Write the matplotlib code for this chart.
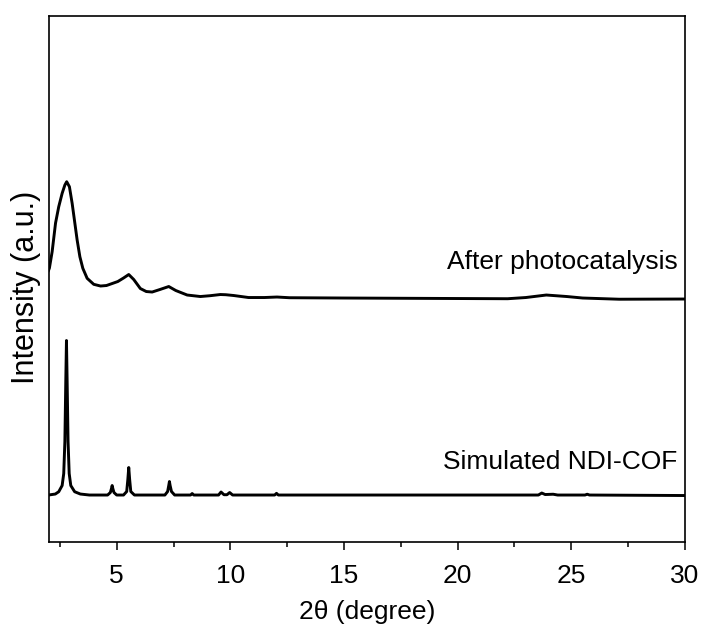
import matplotlib
matplotlib.use("Agg")
import matplotlib.pyplot as plt
from matplotlib.ticker import MultipleLocator

plt.rcParams['font.family'] = ['Liberation Sans', 'DejaVu Sans']

# After photocatalysis
top_x = [2.0, 2.04, 2.16, 2.31, 2.45, 2.60, 2.72, 2.80, 2.92, 3.04, 3.16, 3.26,
         3.38, 3.51, 3.70, 3.99, 4.29, 4.55, 4.8, 5.05, 5.3, 5.53, 5.75, 6.04,
         6.3, 6.56, 6.9, 7.29, 7.6, 8.10, 8.68, 9.1, 9.56, 9.8, 10.15, 10.8,
         11.5, 12.05, 12.6, 15.0, 20.0, 22.2, 23.0, 23.9, 24.8, 25.5, 27.1, 30.0]
top_y = [271.0, 273.5, 289.8, 318.5, 334.8, 348.2, 356.5, 359.8, 354.8, 338.2,
         318.2, 301.5, 284.8, 273.2, 263.2, 257.2, 255.5, 256.0, 258.0, 260.0,
         263.5, 267.0, 262.0, 253.0, 250.0, 249.5, 252.0, 255.0, 251.0, 246.5,
         245.0, 245.8, 247.0, 246.8, 246.0, 244.0, 244.0, 244.5, 243.8, 243.5,
         243.0, 242.8, 244.0, 246.5, 245.0, 243.5, 242.3, 242.5]

# Simulated NDI-COF
sim_x = [2.0, 2.3, 2.45, 2.6, 2.67, 2.72, 2.76, 2.79, 2.82, 2.86, 2.91, 2.98,
         3.15, 3.4, 3.8,
         4.6, 4.72, 4.77, 4.80, 4.83, 4.88, 5.0,
         5.3, 5.44, 5.49, 5.53, 5.57, 5.62, 5.78,
         7.12, 7.24, 7.29, 7.32, 7.35, 7.41, 7.55,
         8.25, 8.32, 8.39,
         9.48, 9.59, 9.72, 9.85, 9.97, 10.1,
         11.95, 12.03, 12.11,
         23.55, 23.7, 23.85, 24.2, 24.4, 25.6, 25.7, 25.8, 30.0]
sim_y = [46.5, 47.5, 49.8, 56.0, 68.0, 100.0, 160.0, 201.0, 160.0, 100.0, 68.0, 56.0,
         49.8, 47.5, 46.5,
         46.5, 49.0, 53.0, 56.0, 53.0, 49.0, 46.5,
         46.5, 50.0, 62.0, 74.0, 62.0, 50.0, 46.5,
         46.5, 50.0, 56.0, 60.0, 56.0, 50.0, 46.5,
         46.5, 48.0, 46.5,
         46.5, 49.5, 46.8, 46.8, 49.0, 46.5,
         46.5, 48.2, 46.5,
         46.5, 48.5, 47.0, 47.3, 46.5, 46.5, 47.3, 46.5, 46.0]

labels = ["After photocatalysis", "Simulated NDI-COF"]

fig = plt.figure(figsize=(7.05, 6.33), dpi=100)
ax = fig.add_axes([0.0688, 0.1445, 0.9028, 0.8302])

ax.plot(top_x, top_y, color='black', lw=2.1, solid_joinstyle='round')
ax.plot(sim_x, sim_y, color='black', lw=2.1, solid_joinstyle='round')

ax.set_xlim(2, 30)
ax.set_ylim(0, 525.5)
ax.xaxis.set_major_locator(MultipleLocator(5))
ax.xaxis.set_minor_locator(MultipleLocator(2.5))
ax.tick_params(axis='x', which='major', direction='out', length=6, width=1.1,
               labelsize=19, pad=10)
ax.tick_params(axis='x', which='minor', direction='out', length=3.5, width=1.1)
ax.set_yticks([])
for s in ax.spines.values():
    s.set_linewidth(1.2)

ax.text(29.67, 280, labels[0], ha='right', va='center', fontsize=19)
ax.text(29.67, 80, labels[1], ha='right', va='center', fontsize=19)

ax.set_xlabel("2\u03b8 (degree)", fontsize=19, labelpad=9)
ax.set_ylabel("Intensity (a.u.)", fontsize=22)
ax.yaxis.set_label_coords(-0.012, 0.483)

fig.savefig("out.png", dpi=100)
